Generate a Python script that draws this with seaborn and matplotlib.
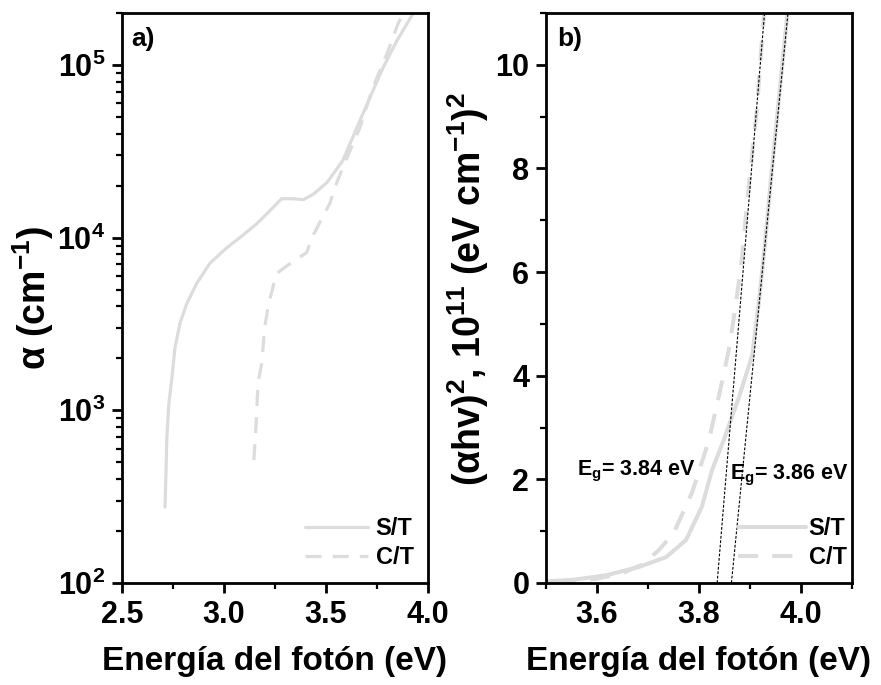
import numpy as np
import pandas as pd
import matplotlib
matplotlib.use("Agg")
import matplotlib.pyplot as plt
from matplotlib.ticker import MultipleLocator, FuncFormatter, LogLocator
import seaborn as sns

# ── Data ────────────────────────────────────────────────────────────────────
# a) absorption coefficient alpha (cm^-1) vs photon energy (eV)
st_a_x = [2.711, 2.716, 2.720, 2.730, 2.745, 2.760, 2.784, 2.818, 2.866, 2.930,
          3.013, 3.078, 3.160, 3.225, 3.283, 3.340, 3.390, 3.440, 3.505, 3.583,
          3.652, 3.716, 3.780, 3.848, 3.926]
st_a_y = [275, 450, 698, 1100, 1550, 2310, 3180, 4150, 5420, 7080,
          8720, 10000, 12000, 14300, 16800, 16800, 16600, 17900, 20800, 27900,
          43300, 64500, 96000, 137700, 197000]

ct_a_x = [3.147, 3.157, 3.167, 3.186, 3.200, 3.216, 3.240, 3.258, 3.330, 3.405,
          3.436, 3.480, 3.520, 3.544, 3.583, 3.667, 3.730, 3.800, 3.853, 3.878]
ct_a_y = [514, 795, 1430, 1890, 3020, 3940, 5140, 6190, 7160, 8180,
          10200, 12900, 15800, 19500, 25400, 43300, 73600, 116000, 172000, 197000]

# b) (alpha h v)^2 in 1e11 (eV cm^-1)^2 vs photon energy (eV)
st_b_x = [3.500, 3.553, 3.619, 3.683, 3.736, 3.775, 3.806, 3.826, 3.849, 3.879,
          3.905, 3.920, 3.930, 3.942, 3.955, 3.974]
st_b_y = [0.03, 0.06, 0.15, 0.31, 0.50, 0.83, 1.47, 2.18, 2.76, 3.59,
          4.40, 5.60, 6.56, 7.84, 9.13, 11.0]

ct_b_x = [3.520, 3.600, 3.650, 3.690, 3.720, 3.750, 3.787, 3.820, 3.846, 3.859,
          3.872, 3.885, 3.894, 3.904, 3.914, 3.921, 3.928]
ct_b_y = [0.0, 0.08, 0.19, 0.36, 0.62, 0.95, 1.75, 2.76, 3.90, 4.50,
          5.33, 6.29, 7.26, 8.22, 9.13, 10.1, 11.0]

# linear fits (Tauc extrapolation)
fit_ct_x = [3.836, 3.929]
fit_ct_y = [0.0, 11.0]
fit_st_x = [3.864, 3.975]
fit_st_y = [0.0, 11.0]

EG_LABELS = ["E$_{g}$= 3.84 eV", "E$_{g}$= 3.86 eV"]

# ── Style ───────────────────────────────────────────────────────────────────
sns.set_style("ticks")
plt.rcParams['font.family'] = ['Liberation Sans', 'DejaVu Sans']
plt.rcParams['font.weight'] = 'bold'
plt.rcParams['axes.labelweight'] = 'bold'
plt.rcParams['mathtext.fontset'] = 'custom'
plt.rcParams['mathtext.bf'] = 'Liberation Sans:bold'
plt.rcParams['mathtext.rm'] = 'Liberation Sans:bold'
plt.rcParams['mathtext.it'] = 'Liberation Sans:bold'
plt.rcParams['mathtext.default'] = 'bf'
for k in ['text.color', 'axes.labelcolor', 'xtick.color', 'ytick.color', 'axes.edgecolor']:
    plt.rcParams[k] = 'black'

GREY = '#dcdcdc'
LW = 2.3
DASH = (0, (5, 3.5))
FIT = (0, (2.5, 1.5))

fig = plt.figure(figsize=(8.81, 6.85), dpi=100)
ax1 = fig.add_axes([0.1385, 0.149, 0.347, 0.832])
ax2 = fig.add_axes([0.6197, 0.149, 0.347, 0.832])

# ── a) ──────────────────────────────────────────────────────────────────────
ax1.set_yscale('log')
sns.lineplot(x=st_a_x, y=st_a_y, ax=ax1, color=GREY, lw=LW, sort=False,
             estimator=None, label='S/T')
sns.lineplot(x=ct_a_x, y=ct_a_y, ax=ax1, color=GREY, lw=LW, sort=False,
             estimator=None, label='C/T', linestyle=DASH)
ax1.set_xlim(2.5, 4.0)
ax1.set_ylim(100, 2e5)
ax1.xaxis.set_major_locator(MultipleLocator(0.5))
ax1.xaxis.set_minor_locator(MultipleLocator(0.25))
ax1.yaxis.set_major_locator(LogLocator(base=10, numticks=10))
ax1.yaxis.set_minor_locator(LogLocator(base=10, subs=np.arange(2, 10), numticks=10))
ax1.yaxis.set_major_formatter(FuncFormatter(lambda v, p: r'$10^{%d}$' % round(np.log10(v))))
ax1.set_xlabel('Energía del fotón (eV)', fontsize=24, labelpad=12)
ax1.set_ylabel('α (cm$^{-1}$)', fontsize=27)
ax1.yaxis.set_label_coords(-0.215, 0.5)
ax1.text(0.03, 0.975, 'a)', transform=ax1.transAxes, fontsize=19,
         fontweight='bold', va='top', ha='left')
ax1.legend(loc='lower right', frameon=False, fontsize=17, handlelength=2.7,
           labelspacing=0.25, handletextpad=0.3, borderaxespad=0.2,
           bbox_to_anchor=(1.0, 0.0))

# ── b) ──────────────────────────────────────────────────────────────────────
sns.lineplot(x=st_b_x, y=st_b_y, ax=ax2, color=GREY, lw=LW + 0.6, sort=False,
             estimator=None, label='S/T')
sns.lineplot(x=ct_b_x, y=ct_b_y, ax=ax2, color=GREY, lw=LW + 0.6, sort=False,
             estimator=None, label='C/T', linestyle=DASH)
sns.lineplot(x=fit_ct_x, y=fit_ct_y, ax=ax2, color='black', lw=0.8,
             linestyle=FIT, estimator=None, sort=False)
sns.lineplot(x=fit_st_x, y=fit_st_y, ax=ax2, color='black', lw=0.8,
             linestyle=FIT, estimator=None, sort=False)
ax2.set_xlim(3.5, 4.1)
ax2.set_ylim(0, 11)
ax2.xaxis.set_major_locator(MultipleLocator(0.2))
ax2.xaxis.set_minor_locator(MultipleLocator(0.1))
ax2.yaxis.set_major_locator(MultipleLocator(2))
ax2.yaxis.set_minor_locator(MultipleLocator(1))
ax2.xaxis.set_major_formatter(FuncFormatter(lambda v, p: '%.1f' % v))
ax2.set_xlabel('Energía del fotón (eV)', fontsize=24, labelpad=12)
ax2.set_ylabel('(αhv)$^{2}$, 10$^{11}$ (eV cm$^{-1}$)$^{2}$', fontsize=27)
ax2.yaxis.set_label_coords(-0.18, 0.515)
ax2.text(0.036, 0.975, 'b)', transform=ax2.transAxes, fontsize=19,
         fontweight='bold', va='top', ha='left')
ax2.text(3.56, 2.08, EG_LABELS[0], fontsize=15.5, fontweight='bold',
         ha='left', va='baseline')
ax2.text(3.861, 1.99, EG_LABELS[1], fontsize=15.5, fontweight='bold',
         ha='left', va='baseline')
handles, labels = ax2.get_legend_handles_labels()
ax2.legend(handles[:2], labels[:2], loc='lower right', frameon=False, fontsize=17,
           handlelength=2.9, labelspacing=0.25, handletextpad=0.1,
           borderaxespad=0.2, bbox_to_anchor=(1.03, 0.0))

for ax in (ax1, ax2):
    for s in ax.spines.values():
        s.set_linewidth(2.0)
        s.set_visible(True)
    ax.tick_params(which='major', direction='out', length=7, width=2,
                   labelsize=22, pad=5)
    ax.tick_params(which='minor', direction='out', length=4, width=1.6)
    for lbl in ax.get_xticklabels() + ax.get_yticklabels():
        lbl.set_fontweight('bold')

fig.savefig('out.png', dpi=100)
